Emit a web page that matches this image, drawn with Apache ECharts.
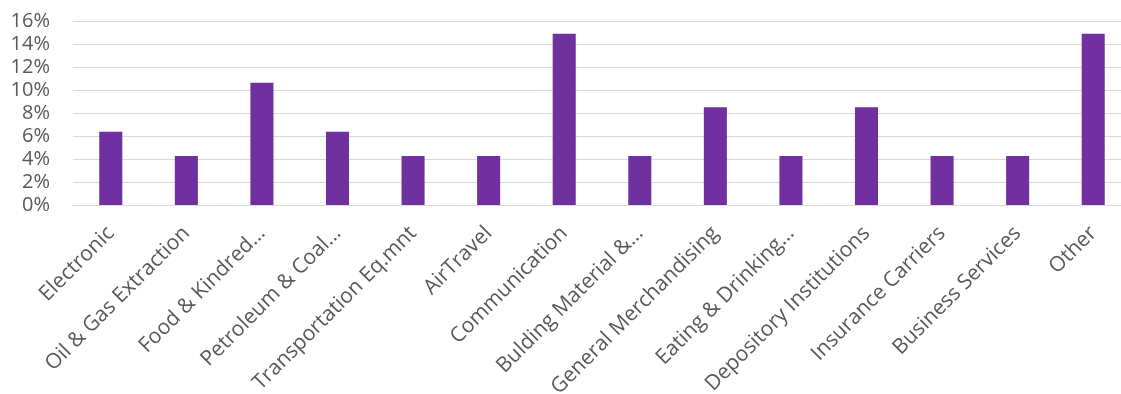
<!DOCTYPE html>
<html>
<head>
<meta charset="utf-8">
<script src="https://cdn.jsdelivr.net/npm/echarts@6/dist/echarts.min.js"></script>
<style>
  html, body { margin: 0; padding: 0; background: #ffffff; overflow: hidden; }
  #chart { width: 1121px; height: 394px; }
</style>
</head>
<body>
<div id="chart"></div>
<script>
// Industry labels as shown on the axis
const categories = [
  'Electronic',
  'Oil & Gas Extraction',
  'Food & Kindred…',
  'Petroleum & Coal…',
  'Transportation Eq.mnt',
  'AirTravel',
  'Communication',
  'Bulding Material &…',
  'General Merchandising',
  'Eating & Drinking…',
  'Depository Institutions',
  'Insurance Carriers',
  'Business Services',
  'Other'
];

// Share of holdings per industry, in percent
const shares = [6.38, 4.26, 10.64, 6.38, 4.26, 4.26, 14.89, 4.26, 8.51, 4.26, 8.51, 4.26, 4.26, 14.89];

// Value axis ticks, in percent
const yTicks = [0, 2, 4, 6, 8, 10, 12, 14, 16];

const textColor = '#595959';
const fontFamily = '"Open Sans", Lato, sans-serif';

const chart = echarts.init(document.getElementById('chart'), null, { renderer: 'canvas' });

chart.setOption({
  animation: false,
  backgroundColor: '#ffffff',
  // fixed plot rectangle; it runs slightly past the right edge of the canvas
  grid: {
    left: 73, top: 21, width: 1058, bottom: 189,
    containLabel: false,
    outerBoundsMode: 'none'
  },
  xAxis: {
    type: 'category',
    data: categories,
    axisLine: { show: true, lineStyle: { color: '#d9d9d9', width: 1 } },
    axisTick: { show: false },
    axisLabel: {
      interval: 0,
      rotate: 45,
      margin: 25,
      color: textColor,
      fontFamily: fontFamily,
      fontSize: 21
    }
  },
  yAxis: {
    type: 'value',
    min: yTicks[0],
    max: yTicks[yTicks.length - 1],
    interval: 2,
    axisLine: { show: false },
    axisTick: { show: false },
    splitLine: { lineStyle: { color: '#d9d9d9', width: 1 } },
    axisLabel: {
      margin: 23,
      color: textColor,
      fontFamily: fontFamily,
      fontSize: 20,
      formatter: v => v + '%'
    }
  },
  series: [{
    type: 'bar',
    data: shares,
    barWidth: '30.5%',
    itemStyle: { color: '#7030A0' }
  }]
});
</script>
</body>
</html>
